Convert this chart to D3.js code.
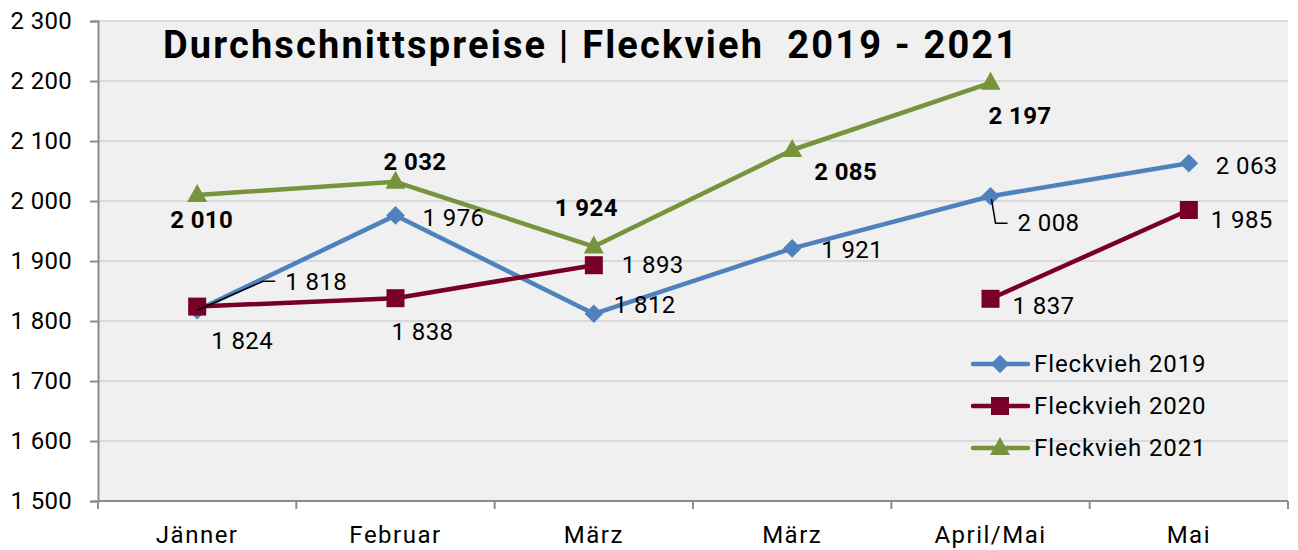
<!DOCTYPE html>
<html><head><meta charset="utf-8">
<script src="https://cdn.jsdelivr.net/npm/d3@7"></script>
<style>body{margin:0;background:#fff}svg{display:block}text{font-family:Roboto,"DejaVu Sans",sans-serif}</style>
</head><body><svg id="c" width="1298" height="550"></svg>
<script>
const categories = ["Jänner","Februar","März","März","April/Mai","Mai"];
const yTicks = [1500,1600,1700,1800,1900,2000,2100,2200,2300];
const series2019 = [1818,1976,1812,1921,2008,2063];
const series2020 = [1824,1838,1893,null,1837,1985];
const series2021 = [2010,2032,1924,2085,2197,null];
const seriesNames = ["Fleckvieh 2019","Fleckvieh 2020","Fleckvieh 2021"];
const title = "Durchschnittspreise | Fleckvieh  2019 - 2021";
// label offsets (dx, dy) relative to point
const off2019 = [[88,-29],[27,2],[20,-9],[29,1],[27,26],[27,2]];
const off2020 = [[14,34],[-4,33],[28,-1],null,[22,7],[22,10]];
const off2021 = [[-27,25],[-12,-20],[-39,-39],[22,22],[-2,33],null];

const W=1298,H=550, L=98,R=1288,T=21,B=501;
const svg=d3.select("#c");
const x=d3.scaleBand().domain(d3.range(categories.length)).range([L,R]);
const y=d3.scaleLinear().domain([1500,2300]).range([B,T]);
const fmt=v=>d3.format(",")(v).replace(/,/g," ");

svg.append("rect").attr("x",L).attr("y",T).attr("width",R-L).attr("height",B-T).attr("fill","#f0f0f0");
// gridlines
svg.append("g").selectAll("line").data(yTicks.slice(1)).join("line")
 .attr("x1",L).attr("x2",R).attr("y1",d=>y(d)).attr("y2",d=>y(d)).attr("stroke","#d9d9d9").attr("stroke-width",2);
// y axis
const ya=svg.append("g").attr("transform",`translate(${L},0)`).call(d3.axisLeft(y).tickValues(yTicks).tickFormat(fmt).tickSize(8).tickPadding(18));
ya.select(".domain").attr("stroke","#8c8c8c").attr("stroke-width",2);
ya.selectAll(".tick line").attr("stroke","#8c8c8c").attr("stroke-width",2);
ya.selectAll("text").attr("font-size",24).attr("fill","#000").attr("font-family","Roboto").attr("letter-spacing",0.3);
// x axis
const xa=svg.append("g").attr("transform",`translate(0,${B})`);
xa.append("line").attr("x1",L).attr("x2",R).attr("stroke","#8c8c8c").attr("stroke-width",2);
const bounds=d3.range(categories.length+1).map(i=>i<categories.length?x(i):x(categories.length-1)+x.bandwidth());
xa.selectAll(".tk").data(bounds).join("line").attr("x1",d=>d).attr("x2",d=>d).attr("y1",0).attr("y2",8).attr("stroke","#8c8c8c").attr("stroke-width",2);
xa.selectAll(".lb").data(categories).join("text").attr("x",(d,i)=>x(i)+x.bandwidth()/2).attr("y",42)
 .attr("text-anchor","middle").attr("font-size",24).attr("letter-spacing",1.5).attr("fill","#000").text(d=>d);

// title
svg.append("text").attr("x",163).attr("y",58).attr("font-size",38).attr("font-weight","bold").attr("fill","#000")
 .attr("letter-spacing",2.15).style("white-space","pre").text(title);

const colors=["#4f81bd","#780028","#77933c"];
const all=[series2019,series2020,series2021];
const offs=[off2019,off2020,off2021];
const cx=i=>x(i)+x.bandwidth()/2;
const line=d3.line().defined(d=>d!=null).x((d,i)=>cx(i)).y(d=>y(d));
all.forEach((s,k)=>{
  svg.append("path").datum(s).attr("d",line).attr("fill","none").attr("stroke",colors[k]).attr("stroke-width",4.5).attr("stroke-linejoin","round");
});
function marker(g,k,px,py){
  if(k===0) g.append("path").attr("d",d3.symbol(d3.symbolDiamond2,220)()).attr("transform",`translate(${px},${py})`).attr("fill",colors[k]);
  else if(k===1) g.append("rect").attr("x",px-9).attr("y",py-9).attr("width",18).attr("height",18).attr("fill",colors[k]);
  else g.append("path").attr("d",`M${px},${py-11}L${px+10},${py+7}L${px-10},${py+7}Z`).attr("fill",colors[k]);
}
all.forEach((s,k)=>{
  const g=svg.append("g");
  s.forEach((v,i)=>{ if(v!=null) marker(g,k,cx(i),y(v)); });
});
// leader lines
svg.append("path").attr("d",`M${cx(0)},${y(1818)}L${cx(0)+66},${y(1818)-29}H${cx(0)+78}`).attr("fill","none").attr("stroke","#000").attr("stroke-width",1.5);
svg.append("path").attr("d",`M${cx(4)+1},${y(2008)+3}L${cx(4)+5},${y(2008)+27}H${cx(4)+17}`).attr("fill","none").attr("stroke","#000").attr("stroke-width",1.5);
// data labels
all.forEach((s,k)=>{
  s.forEach((v,i)=>{ if(v==null) return; const o=offs[k][i];
    svg.append("text").attr("x",cx(i)+o[0]).attr("y",y(v)+o[1]).attr("dy","0.35em").attr("font-size",24).attr("letter-spacing",0.4)
     .attr("font-weight",k===2?"bold":"normal").attr("fill","#000").text(fmt(v));
  });
});
// legend
seriesNames.forEach((n,k)=>{
  const ly=364+k*42;
  const g=svg.append("g");
  g.append("line").attr("x1",973).attr("x2",1028).attr("y1",ly).attr("y2",ly).attr("stroke",colors[k]).attr("stroke-width",4.5).attr("stroke-linecap","round");
  marker(g,k,1000,ly);
  g.append("text").attr("x",1034).attr("y",ly).attr("dy","0.35em").attr("font-size",24).attr("letter-spacing",0.9).attr("fill","#000").text(n);
});
</script></body></html>
